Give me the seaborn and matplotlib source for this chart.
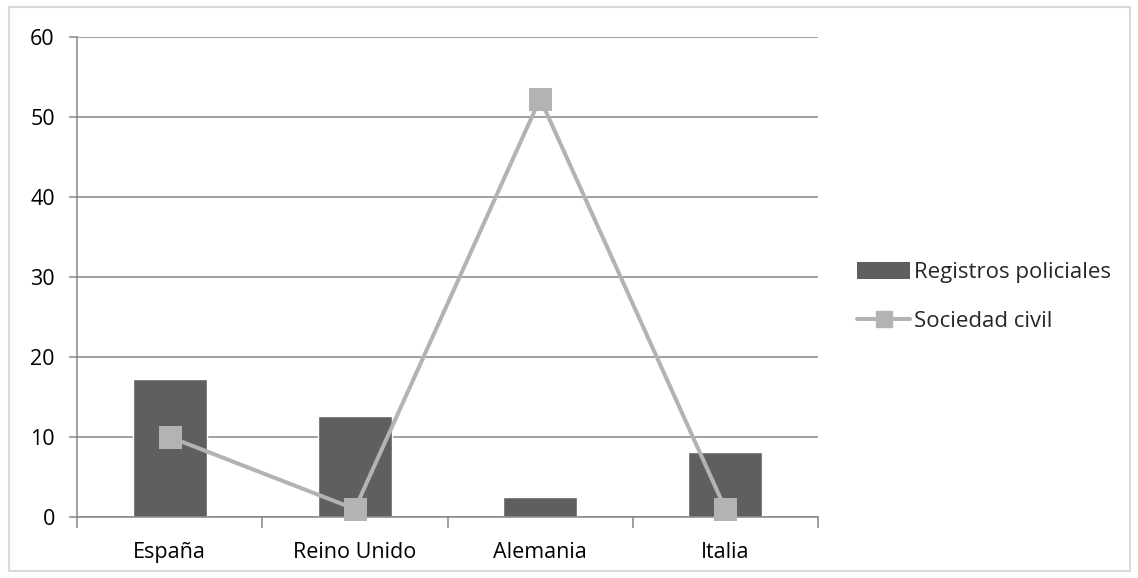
import matplotlib
matplotlib.use("Agg")
import matplotlib.pyplot as plt
from matplotlib.patches import Rectangle
from matplotlib.lines import Line2D
from matplotlib.patches import Patch
import numpy as np
import seaborn as sns

# Data
paises = ["España", "Reino Unido", "Alemania", "Italia"]
registros_policiales = [17.2, 12.6, 2.5, 8.1]
sociedad_civil = [10.0, 1.0, 52.3, 1.0]
y_ticks = [0, 10, 20, 30, 40, 50, 60]

bar_color = "#5f5f5f"
line_color = "#b3b3b3"
grid_color = "#868686"

sns.set_theme(style="white")
plt.rcParams["font.family"] = ["Open Sans", "DejaVu Sans"]
FS = 15.5
FS_LEG = 16

W, H, DPI = 1138, 578, 100
fig = plt.figure(figsize=(W / DPI, H / DPI), dpi=DPI)
ax = fig.add_axes([77 / W, 1 - 517 / H, (818 - 77) / W, (517 - 37) / H])

sns.barplot(x=paises, y=registros_policiales, color=bar_color, width=0.4,
            saturation=1, ax=ax, zorder=2)
sns.pointplot(x=paises, y=sociedad_civil, color=line_color, markers="s",
              markersize=14, linewidth=2.9, ax=ax, zorder=3)
for ln in ax.lines:
    ln.set_clip_on(False)

ax.set_xlim(-0.5, 3.5)
ax.set_ylim(0, 60)
ax.set_yticks(y_ticks)
ax.set_xlabel("")
ax.set_ylabel("")

ax.yaxis.grid(True, color=grid_color, linewidth=1.1, zorder=0)
ax.set_axisbelow(True)
for side in ["top", "right"]:
    ax.spines[side].set_visible(False)
for side in ["left", "bottom"]:
    ax.spines[side].set_color(grid_color)
    ax.spines[side].set_linewidth(1.1)

ax.tick_params(axis="y", length=6, color=grid_color, width=1.1, pad=10,
               labelsize=FS, labelcolor="#000000", left=True)
ax.set_xticks(np.arange(-0.5, 4, 1.0), minor=True)
ax.tick_params(axis="x", which="minor", length=8, color=grid_color,
               width=1.1, bottom=True)
ax.tick_params(axis="x", which="major", length=0, pad=18, labelsize=FS,
               labelcolor="#000000")

handles = [
    Patch(facecolor=bar_color, edgecolor="none"),
    Line2D([0], [0], color=line_color, linewidth=2.9, marker="s",
           markersize=11),
]
fig.legend(handles, ["Registros policiales", "Sociedad civil"],
           loc="center left", bbox_to_anchor=(857 / W, 1 - 297 / H),
           frameon=False, fontsize=FS_LEG, handlelength=2.4, handleheight=0.75,
           handletextpad=0.15, labelspacing=1.25, borderaxespad=0,
           borderpad=0)

fig.patches.append(Rectangle((9 / W, 1 - 571 / H), (1130 - 9) / W,
                             (571 - 7) / H, transform=fig.transFigure,
                             fill=False, edgecolor="#d9d9d9", linewidth=1.5))

fig.savefig("out.png", dpi=DPI)
